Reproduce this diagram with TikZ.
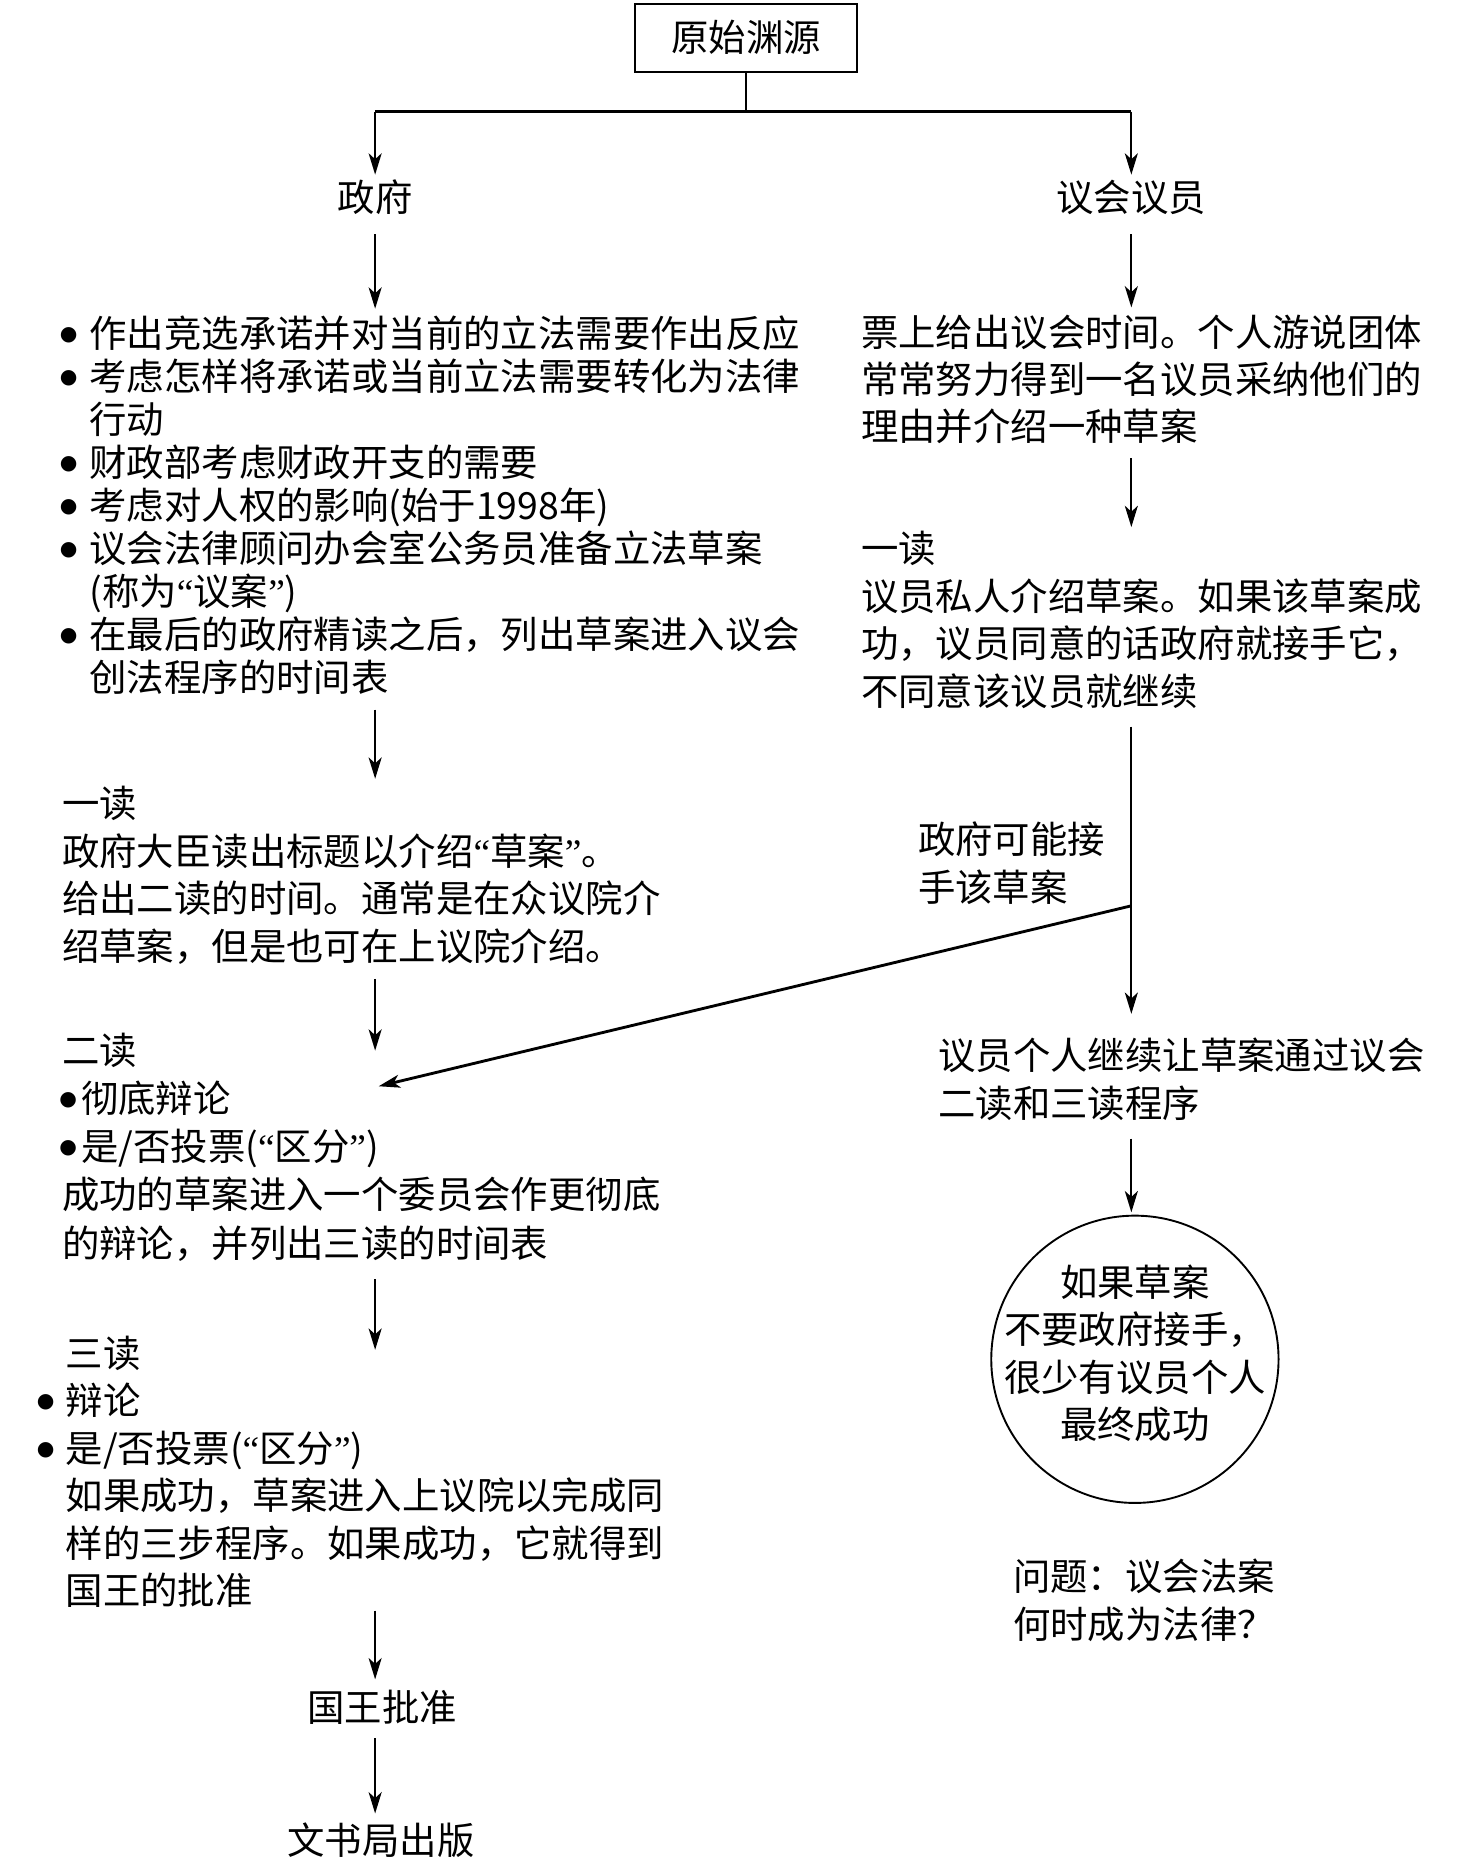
\documentclass[tikz,border=0pt]{standalone}
\usepackage{fontspec}
\newfontfamily\cjk{Noto Sans CJK SC}
\newfontfamily\latq{Liberation Serif}
\newfontfamily\dvs{DejaVu Sans}
\usetikzlibrary{arrows.meta}
\newcommand\bigdot{\raisebox{3.1pt}{\dvs\fontsize{8.5pt}{8.5pt}\selectfont ●}}
\newcommand\bul[1]{\llap{\makebox[#1][c]{\bigdot}}}
\newcommand\myoq{{\latq “}}
\newcommand\mycq{{\latq ”}}
\begin{document}
\begin{tikzpicture}[x=0.5pt,y=-0.5pt,
  every node/.style={inner sep=0pt},
  body/.style={font=\cjk\fontsize{15.75pt}{20pt}\selectfont, align=left, anchor=north west},
  lbl/.style={font=\cjk\fontsize{15.75pt}{20pt}\selectfont, text height=12.9pt, text depth=1.6pt},
  conn/.style={line width=0.8pt},
  arr/.style={line width=0.8pt, -{Stealth[length=9pt,width=5.5pt,inset=2.5pt]}},
]
\useasboundingbox (0,0) rectangle (1240,1571);

% nodes
\node[lbl, draw, line width=1.1pt, minimum width=93.5pt, minimum height=28.8pt] (src) at (628.5,32) {原始渊源};
\node[lbl] (gov) at (316,167) {政府};
\node[lbl] (mp) at (953,167) {议会议员};

\node[body, font=\cjk\fontsize{15.75pt}{18.1pt}\selectfont] (govlist) at (75,266) {%
\bul{17.5pt}作出竞选承诺并对当前的立法需要作出反应\\
\bul{17.5pt}考虑怎样将承诺或当前立法需要转化为法律\\
行动\\
\bul{17.5pt}财政部考虑财政开支的需要\\
\bul{17.5pt}考虑对人权的影响(始于1998年)\\
\bul{17.5pt}议会法律顾问办会室公务员准备立法草案\\
(称为\myoq 议案\mycq)\\
\bul{17.5pt}在最后的政府精读之后，列出草案进入议会\\
创法程序的时间表};

\node[body, font=\cjk\fontsize{15.75pt}{19.75pt}\selectfont] (mpintro) at (725,265) {%
票上给出议会时间。个人游说团体\\
常常努力得到一名议员采纳他们的\\
理由并介绍一种草案};

\node[body] (mpfirst) at (725,447) {%
一读\\
议员私人介绍草案。如果该草案成\\
功，议员同意的话政府就接手它，\\
不同意该议员就继续};

\node[body] (take) at (773,692) {%
政府可能接\\
手该草案};

\node[body] (first) at (52,662) {%
一读\\
政府大臣读出标题以介绍\myoq 草案\mycq 。\\
给出二读的时间。通常是在众议院介\\
绍草案，但是也可在上议院介绍。};

\node[body, font=\cjk\fontsize{15.75pt}{20.25pt}\selectfont] (second) at (52,870) {%
二读\\
\hspace*{8pt}\bul{11pt}彻底辩论\\
\hspace*{8pt}\bul{11pt}是/否投票(\myoq 区分\mycq)\\
成功的草案进入一个委员会作更彻底\\
的辩论，并列出三读的时间表};

\node[body] (third) at (55,1125) {%
三读\\
\bul{17pt}辩论\\
\bul{17pt}是/否投票(\myoq 区分\mycq)\\
如果成功，草案进入上议院以完成同\\
样的三步程序。如果成功，它就得到\\
国王的批准};

\node[lbl] (royal) at (322,1439) {国王批准};
\node[lbl] (publish) at (321,1551) {文书局出版};

\node[body] (mpcont) at (790,874) {%
议员个人继续让草案通过议会\\
二读和三读程序};

\node[draw, circle, line width=0.8pt, minimum size=121pt] (ring) at (956,1145) {};
\node[align=center, font=\cjk\fontsize{15.75pt}{20pt}\selectfont] (ringtext) at (956,1140) {%
如果草案\\
不要政府接手，\\
很少有议员个人\\
最终成功};

\node[body] (question) at (853,1313) {%
问题：议会法案\\
何时成为法律？};

% connectors
\coordinate (split) at (628.5,94);
\draw[conn] (src.south) -- (split);
\draw[line width=1.5pt] (gov |- split) -- (mp |- split);
\draw[arr, shorten >=2.5pt] (gov |- split) -- (gov.north);
\draw[arr, shorten >=2.5pt] (mp |- split) -- (mp.north);

\draw[arr, shorten <=7.75pt, shorten >=3pt] (gov.south) -- (gov.south |- govlist.north);
\draw[arr, shorten <=7.75pt, shorten >=3pt] (mp.south) -- (mp.south |- mpintro.north);

\draw[arr, shorten <=6pt, shorten >=1.5pt] (mp.south |- mpintro.south) -- (mp.south |- mpfirst.north);
\draw[arr, shorten <=7.5pt, shorten >=10pt] (mp.south |- mpfirst.south) -- (mp.south |- mpcont.north);

\coordinate (fork) at (953,763);
\coordinate (tgt) at (319,915);
\draw[arr, line width=1.2pt] (fork) -- (tgt);

\draw[arr, shorten <=7.5pt, shorten >=1pt] (mp.south |- mpcont.south) -- (mp.south |- ring.north);

\draw[arr, shorten <=6pt, shorten >=3pt] (gov.south |- govlist.south) -- (gov.south |- first.north);
\draw[arr, shorten <=6pt, shorten >=-7.5pt] (gov.south |- first.south) -- (gov.south |- second.north);
\draw[arr, shorten <=7.5pt, shorten >=-6pt] (gov.south |- second.south) -- (gov.south |- third.north);
\draw[arr, shorten <=1pt, shorten >=4.75pt] (gov.south |- third.south) -- (gov.south |- royal.north);
\draw[arr, shorten <=5.25pt, shorten >=4.25pt] (gov.south |- royal.south) -- (gov.south |- publish.north);
\end{tikzpicture}
\end{document}
